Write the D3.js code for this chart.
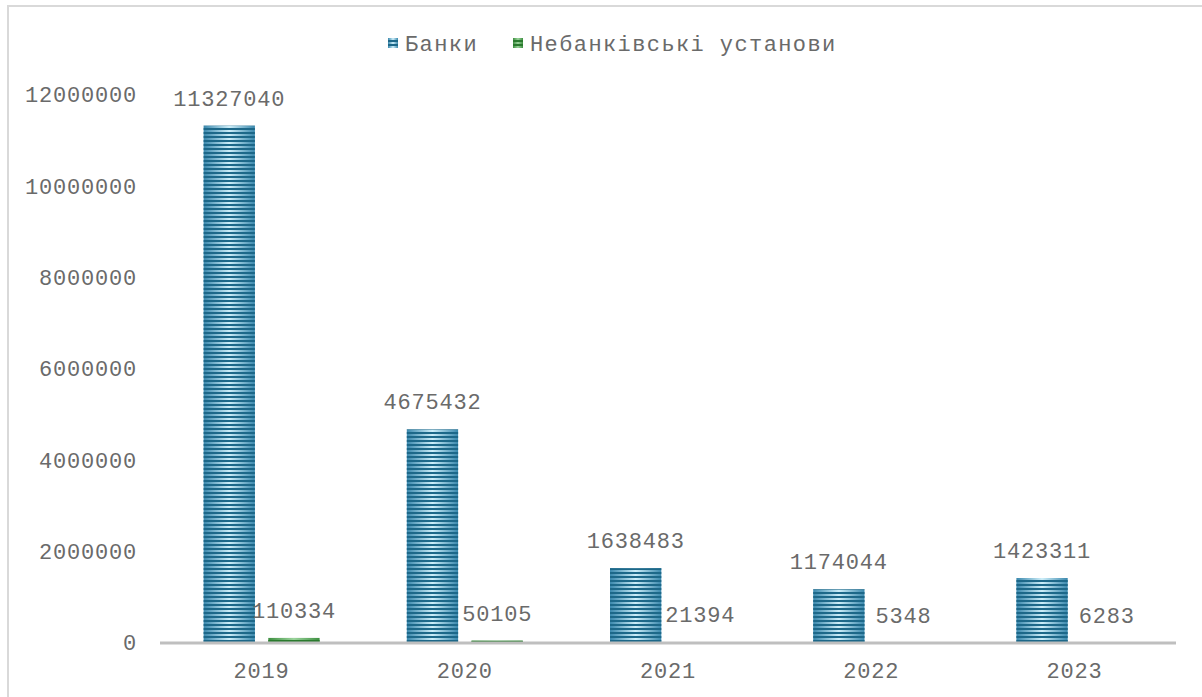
<!DOCTYPE html>
<html>
<head>
<meta charset="utf-8">
<script src="https://cdn.jsdelivr.net/npm/d3@7"></script>
<style>
  html, body { margin: 0; padding: 0; background: #fff; }
  svg text { font-family: "Courier New", "Liberation Mono", monospace; fill: #6a6a6a; }
</style>
</head>
<body>
<svg id="chart" width="1202" height="697"></svg>
<script>
const years = ["2019", "2020", "2021", "2022", "2023"];
const seriesNames = ["Банки", "Небанківські установи"];
const banks = [11327040, 4675432, 1638483, 1174044, 1423311];
const nonBanks = [110334, 50105, 21394, 5348, 6283];
const yTicks = [0, 2000000, 4000000, 6000000, 8000000, 10000000, 12000000];

const svg = d3.select("#chart");
const W = 1202, H = 697;
const margin = { left: 160, right: 26, top: 95, bottom: 54 };

// outer frame
svg.append("rect")
  .attr("x", 8).attr("y", 6).attr("width", W).attr("height", H)
  .attr("fill", "#fff").attr("stroke", "#d9d9d9").attr("stroke-width", 2);

const defs = svg.append("defs");

function stripedFill(id, edge, center, dark) {
  const g = defs.append("linearGradient").attr("id", id + "-grad")
    .attr("x1", "0%").attr("x2", "100%").attr("y1", "0%").attr("y2", "0%");
  g.append("stop").attr("offset", "0%").attr("stop-color", edge);
  g.append("stop").attr("offset", "50%").attr("stop-color", center);
  g.append("stop").attr("offset", "100%").attr("stop-color", edge);
  const p = defs.append("pattern").attr("id", id + "-stripes")
    .attr("patternUnits", "userSpaceOnUse").attr("width", 8).attr("height", 4);
  p.append("rect").attr("x", 0).attr("y", 0).attr("width", 8).attr("height", 2)
    .attr("fill", dark);
}
stripedFill("blue", "#3a88ad", "#cdeef9", "#1d6889");
stripedFill("green", "#3d8f40", "#9ad39b", "#2a7a2e");

const x0 = d3.scaleBand().domain(years).range([margin.left, W - margin.right]);
// two bars of equal width with a small gap, centred in each category
const x1 = d3.scaleBand().domain([0, 1])
  .range([x0.bandwidth() / 2 - 58, x0.bandwidth() / 2 + 58]).paddingInner(12 / 58);
const y = d3.scaleLinear().domain([0, 12000000]).range([H - margin.bottom, margin.top]);

// y axis labels
svg.append("g").selectAll("text").data(yTicks).join("text")
  .attr("x", 137).attr("y", d => y(d)).attr("dy", "0.33em")
  .attr("text-anchor", "end").attr("font-size", 22).attr("letter-spacing", 0.8)
  .text(d => d);

const series = [
  { name: seriesNames[0], values: banks, fill: "blue" },
  { name: seriesNames[1], values: nonBanks, fill: "green" }
];

const groups = svg.append("g").selectAll("g").data(years).join("g")
  .attr("transform", d => `translate(${x0(d)},0)`);

series.forEach((s, si) => {
  groups.append("rect")
    .attr("x", x1(si)).attr("width", x1.bandwidth())
    .attr("y", (d, i) => y(s.values[i]))
    .attr("height", (d, i) => y(0) - y(s.values[i]))
    .attr("fill", `url(#${s.fill}-grad)`);
  groups.append("rect")
    .attr("x", x1(si)).attr("width", x1.bandwidth())
    .attr("y", (d, i) => y(s.values[i]))
    .attr("height", (d, i) => y(0) - y(s.values[i]))
    .attr("fill", `url(#${s.fill}-stripes)`);
  groups.append("text")
    .attr("x", x1(si) + x1.bandwidth() / 2)
    .attr("y", (d, i) => y(s.values[i]) - 28).attr("dy", "0.36em")
    .attr("text-anchor", "middle").attr("font-size", 22).attr("letter-spacing", 0.8)
    .text((d, i) => s.values[i]);
});

// baseline
svg.append("line")
  .attr("x1", margin.left).attr("x2", W - margin.right)
  .attr("y1", y(0)).attr("y2", y(0))
  .attr("stroke", "#bfbfbf").attr("stroke-width", 3);

// x axis labels
svg.append("g").selectAll("text").data(years).join("text")
  .attr("x", d => x0(d) + x0.bandwidth() / 2).attr("y", 670).attr("dy", "0.36em")
  .attr("text-anchor", "middle").attr("font-size", 22).attr("letter-spacing", 0.8)
  .text(d => d);

// legend
const legend = svg.append("g");
const legendItems = [
  { name: seriesNames[0], fill: "blue", x: 388 },
  { name: seriesNames[1], fill: "green", x: 513 }
];
legendItems.forEach(it => {
  legend.append("rect").attr("x", it.x).attr("y", 38).attr("width", 10).attr("height", 10)
    .attr("fill", `url(#${it.fill}-grad)`);
  legend.append("rect").attr("x", it.x).attr("y", 38).attr("width", 10).attr("height", 10)
    .attr("fill", `url(#${it.fill}-stripes)`);
  legend.append("text").attr("x", it.x + 17).attr("y", 43).attr("dy", "0.36em")
    .attr("font-size", 22).attr("letter-spacing", 1.4).text(it.name);
});
</script>
</body>
</html>
